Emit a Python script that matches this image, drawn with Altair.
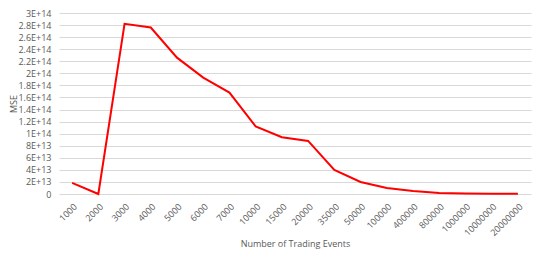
import altair as alt
import pandas as pd

events = ["1000", "2000", "3000", "4000", "5000", "6000", "7000", "10000", "15000",
          "20000", "35000", "50000", "100000", "400000", "800000", "1000000",
          "10000000", "20000000"]
mse = [1.85e13, 0.0, 2.82e14, 2.76e14, 2.26e14, 1.93e14, 1.68e14, 1.12e14, 9.4e13,
       8.8e13, 4.0e13, 2.0e13, 1.0e13, 0.5e13, 0.15e13, 0.1e13, 0.06e13, 0.06e13]

df = pd.DataFrame({"events": events, "mse": mse})

FONT = "Open Sans"
GREY = "#595959"

chart = alt.Chart(df).mark_line(color="#ff0000", strokeWidth=2).encode(
    x=alt.X("events:N", sort=events, title="Number of Trading Events",
            scale=alt.Scale(type="point", padding=0.5),
            axis=alt.Axis(labelAngle=-45, labelAlign="right", labelBaseline="top",
                          domain=False, ticks=False, grid=False, labelPadding=8,
                          labelFont=FONT, labelFontSize=9, labelColor=GREY,
                          titleFont=FONT, titleFontSize=9, titleColor=GREY,
                          titleFontWeight="normal", titlePadding=2)),
    y=alt.Y("mse:Q", title="MSE",
            scale=alt.Scale(domain=[0, 3e14], nice=False),
            axis=alt.Axis(values=[i * 2e13 for i in range(16)],
                          labelExpr="datum.value == 0 ? '0' : replace(format(datum.value, '.2~e'), 'e', 'E')",
                          domain=False, ticks=False, gridColor="#d9d9d9", gridWidth=1,
                          labelFont=FONT, labelFontSize=9, labelColor=GREY, labelPadding=8,
                          titleFont=FONT, titleFontSize=9, titleColor=GREY,
                          titleFontWeight="normal", titlePadding=-1)),
).properties(
    width=472, height=181,
    autosize=alt.AutoSizeParams(type="none"),
    padding={"left": 51, "top": 5, "right": 1, "bottom": 59},
).configure_view(stroke=None)

chart.save("out.html", embed_options={"renderer": "svg", "actions": False})
